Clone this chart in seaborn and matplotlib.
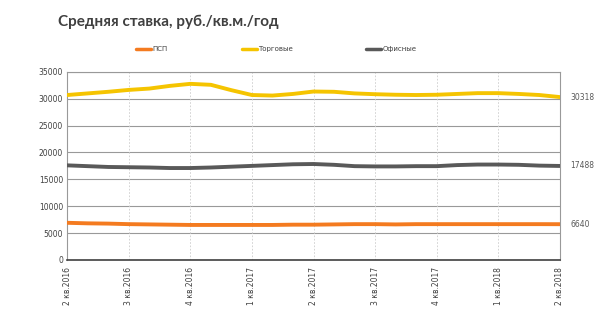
import matplotlib
matplotlib.use("Agg")
import matplotlib.pyplot as plt
import seaborn as sns
import pandas as pd
import numpy as np

sns.set_theme(style="white")
plt.rcParams['font.family'] = ['DejaVu Sans']

quarters = ["2 кв.2016", "3 кв.2016", "4 кв.2016", "1 кв.2017", "2 кв.2017",
            "3 кв.2017", "4 кв.2017", "1 кв.2018", "2 кв.2018"]
months = list(range(25))
psp = [6900, 6800, 6750, 6650, 6600, 6550, 6500, 6500, 6500, 6500, 6500, 6550, 6550,
       6600, 6650, 6650, 6600, 6650, 6650, 6650, 6650, 6650, 6650, 6650, 6640]
trade = [30700, 31000, 31300, 31650, 31900, 32400, 32780, 32600, 31600, 30700, 30600,
         30900, 31350, 31300, 31000, 30850, 30750, 30700, 30750, 30900, 31050, 31050,
         30900, 30700, 30318]
office = [17600, 17450, 17300, 17250, 17200, 17100, 17100, 17200, 17350, 17500, 17650,
          17800, 17850, 17700, 17450, 17400, 17400, 17450, 17450, 17650, 17750, 17750,
          17700, 17550, 17488]
series_names = ["ПСП", "Торговые", "Офисные"]
colors = ["#F47B20", "#F5C400", "#595959"]

df = pd.DataFrame({
    "m": months * 3,
    "v": psp + trade + office,
    "s": [series_names[0]] * 25 + [series_names[1]] * 25 + [series_names[2]] * 25,
})

fig = plt.figure(figsize=(6, 3.24), dpi=100)
ax = fig.add_axes([0.112, 0.198, 0.821, 0.580])

sns.lineplot(data=df, x="m", y="v", hue="s", palette=colors, linewidth=2.8,
             ax=ax, legend=False, zorder=3)

ax.set_xlim(0, 24)
ax.set_ylim(0, 35000)
ax.set_yticks(np.arange(0, 35001, 5000))
ax.set_yticklabels([str(int(v)) for v in np.arange(0, 35001, 5000)], fontsize=5.5, color="#404040")
ax.set_xticks(range(0, 25, 3))
ax.set_xticklabels(quarters, rotation=90, fontsize=5.5, color="#404040")
ax.set_xlabel("")
ax.set_ylabel("")

ax.grid(axis="y", color="#999999", linewidth=0.8)
for x in range(3, 24, 3):
    ax.axvline(x, color="#CCCCCC", linewidth=0.6, linestyle=(0, (2, 2)), zorder=1)
ax.set_axisbelow(True)

for side in ["left", "right", "top"]:
    ax.spines[side].set_color("#999999")
    ax.spines[side].set_linewidth(0.8)
ax.spines["bottom"].set_color("#404040")
ax.spines["bottom"].set_linewidth(1.2)
ax.tick_params(axis="x", direction="out", length=3, width=1, color="#404040", pad=2)
ax.tick_params(axis="y", length=0, pad=3)

for vals in [trade, office, psp]:
    ax.text(24.5, vals[-1], str(vals[-1]), fontsize=5.5, color="#595959",
            va="center", ha="left", clip_on=False)

fig.text(0.097, 0.92, "Средняя ставка, руб./кв.м./год", fontsize=11,
         fontweight="bold", family=["Lato", "DejaVu Sans"],
         color="#404040", va="baseline", ha="left")

legend_x = [0.227, 0.403, 0.61]
for lx, name, c in zip(legend_x, series_names, colors):
    fig.add_artist(plt.Line2D([lx, lx + 0.025], [0.848, 0.848], color=c, linewidth=2.5,
                              transform=fig.transFigure))
    fig.text(lx + 0.027, 0.848, name, fontsize=5, color="#404040", va="center", ha="left")

fig.savefig("out.png", dpi=100, facecolor="white")
